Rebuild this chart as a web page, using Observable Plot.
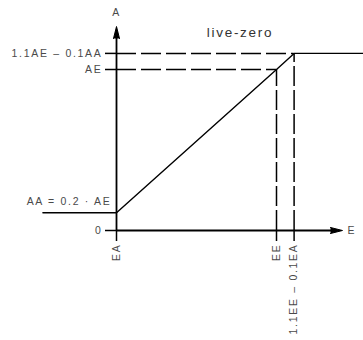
<!DOCTYPE html>
<html>
<head>
<meta charset="utf-8">
<script src="https://cdn.jsdelivr.net/npm/d3@7"></script>
<script src="https://cdn.jsdelivr.net/npm/@observablehq/plot@0.6"></script>
<style>
  html, body { margin: 0; padding: 0; background: #fff; }
  svg text { letter-spacing: 1.7px; }
</style>
</head>
<body>
<div id="chart"></div>
<script>
// ---- data ----
const TITLE = "live-zero";
const X_NAME = "E";
const Y_NAME = "A";
const E_TICKS = [0, 1, 1.11];
const E_LABELS = ["EA", "EE", "1.1EE – 0.1EA"];
const A_TICKS = [0, 1, 1.1];
const A_LABELS = ["0", "AE", "1.1AE – 0.1AA"];
const AA_VALUE = 0.11;
const AA_LABEL = "AA = 0.2 · AE";
const CURVE_E = [-0.46, 0, 1, 1.11, 1.55];
const CURVE_A = [0.11, 0.11, 1, 1.1, 1.1];
const AXIS_END_E = 1.4125;
const AXIS_END_A = 1.267;

// ---- derived tables ----
const curve = CURVE_E.map((e, i) => ({e, a: CURVE_A[i]}));
const guides = A_TICKS.slice(1).map((a, i) => ({a, e: E_TICKS[i + 1]}));
const eLabel = new Map(E_TICKS.map((v, i) => [v, E_LABELS[i]]));
const aLabel = new Map(A_TICKS.map((v, i) => [v, A_LABELS[i]]));

const W = 363, H = 340;
const ML = 116, MB = 110;
const ink = "#000";
const textInk = "#4a4a4a";

const chart = Plot.plot({
  width: W,
  height: H,
  marginLeft: ML,
  marginRight: 0,
  marginTop: 0,
  marginBottom: MB,
  style: {fontFamily: "'Liberation Sans', Arial, sans-serif", fontSize: "10.5px", background: "#fff"},
  x: {domain: [0, (W - ML) / 160]},
  y: {domain: [0, (H - MB) / 161]},
  marks: [
    // dashed guides
    Plot.ruleY(guides, {y: "a", x1: 0, x2: "e", stroke: ink, strokeWidth: 1.5, strokeDasharray: "20,5"}),
    Plot.ruleX(guides, {x: "e", y1: 0, y2: "a", stroke: ink, strokeWidth: 1.5, strokeDasharray: "20,4"}),
    // characteristic
    Plot.line(curve, {x: "e", y: "a", stroke: ink, strokeWidth: 1.4}),
    // axes lines
    Plot.ruleX([0], {y1: 0, y2: AXIS_END_A - 0.03, stroke: ink, strokeWidth: 1.8}),
    Plot.ruleY([0], {x1: 0, x2: AXIS_END_E - 0.03, stroke: ink, strokeWidth: 1.8}),
    Plot.vector([0], {x: 0, y: AXIS_END_A, rotate: 0, length: 12, r: 3, shape: "spike", anchor: "end", fill: ink, fillOpacity: 1, stroke: ink, strokeWidth: 1}),
    Plot.vector([0], {x: AXIS_END_E, y: 0, rotate: 90, length: 12, r: 3, shape: "spike", anchor: "end", fill: ink, fillOpacity: 1, stroke: ink, strokeWidth: 1}),
    // axes ticks and labels
    Plot.axisY({ticks: A_TICKS, tickFormat: d => aLabel.get(d), tickSize: 11, tickPadding: 3, label: null, stroke: ink, strokeWidth: 1.5, fill: textInk}),
    Plot.axisX({ticks: E_TICKS, tickFormat: d => eLabel.get(d), tickSize: 11, tickPadding: 2, tickRotate: -90, label: null, stroke: ink, strokeWidth: 1.5, fill: textInk}),
    // AA annotation
    Plot.text([AA_LABEL], {x: 0, y: AA_VALUE, text: d => d, dx: -5, dy: -11, textAnchor: "end", fill: textInk}),
    // axis names
    Plot.text([Y_NAME], {x: 0, y: AXIS_END_A, text: d => d, dy: -14, fill: textInk}),
    Plot.text([X_NAME], {x: AXIS_END_E, y: 0, text: d => d, dx: 5, textAnchor: "start", fill: textInk}),
    // title
    Plot.text([TITLE], {frameAnchor: "top", text: d => d, dy: 27, fontSize: 13.5, fill: "#333"})
  ]
});
document.getElementById("chart").appendChild(chart);
</script>
</body>
</html>
